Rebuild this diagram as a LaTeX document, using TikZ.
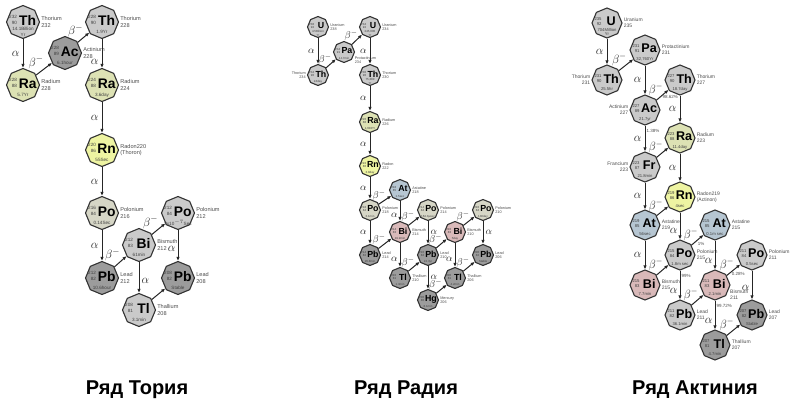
\documentclass[tikz,border=0pt]{standalone}
\usepackage{fontspec}
\setmainfont{Liberation Sans}
\usetikzlibrary{shapes.geometric,arrows.meta,calc}
\definecolor{cTh}{HTML}{CACACA}
\definecolor{cDk}{HTML}{9C9C9C}
\definecolor{cRa}{HTML}{DDE2B4}
\definecolor{cRn}{HTML}{EEF4A2}
\definecolor{cPo}{HTML}{D6D6C6}
\definecolor{cAt}{HTML}{B6C6D2}
\definecolor{cBi}{HTML}{D9B9B9}
\tikzset{
 oct/.style={regular polygon,regular polygon sides=8,shape border rotate=22.5,draw=black!80,line width=1.1pt,inner sep=0pt},
 arr/.style={-{Latex[length=4pt,width=3.5pt]},line width=1pt,black!85},
 gr/.style={font=\fontsize{13}{13}\selectfont,inner sep=1pt,black!85},
 lbl/.style={align=left,inner sep=1pt,text=black!70},
 pc/.style={font=\fontsize{4.5}{5}\selectfont,inner sep=0pt,black!70},
 ttl/.style={font=\fontsize{20}{20}\selectfont\bfseries}
}
% #1 name #2 pos #3 diam #4 fill #5 mass #6 Z #7 sym #8 half-life #9 label options
\newcommand\iso[9]{%
 \pgfmathsetmacro\dd{#3}%
 \pgfmathsetmacro\fs{0.42*#3}\pgfmathsetmacro\fn{0.14*#3}\pgfmathsetmacro\fb{0.16*#3}%
 \node[oct,minimum size=\dd pt,fill=#4,#9] (#1) at #2 {};
 \node[inner sep=0pt,font=\fontsize{\fs}{\fs}\selectfont\bfseries] at ($(#1)+(0.14*\dd,-0.05*\dd)$) {#7};
 \node[inner sep=0pt,align=right,font=\fontsize{\fn}{\fb}\selectfont,text=black!75] at ($(#1)+(-0.3*\dd,-0.06*\dd)$) {#5\\#6};
 \node[inner sep=0pt,align=center,font=\fontsize{\fn}{\fb}\selectfont,text=black!75] at ($(#1)+(0,0.3*\dd)$) {#8};
}
\begin{document}
\begin{tikzpicture}[x=1pt,y=-1pt]
\useasboundingbox (0,0) rectangle (807,413);
% ---------------- Thorium series
\def\D{33}
\tikzset{lt/.style={label={[lbl,font=\fontsize{5.6}{6.5}\selectfont,anchor=west]east:#1}}}
\iso{t1}{(23,22)}{\D}{cTh}{232}{90}{Th}{14.1Billion\\Yr}{lt={Thorium\\232}}
\iso{t2}{(65,53)}{\D}{cDk}{228}{89}{Ac}{6.1hour}{lt={Actinium\\228}}
\iso{t3}{(102,22)}{\D}{cTh}{228}{90}{Th}{1.9Yr}{lt={Thorium\\228}}
\iso{t4}{(23,85)}{\D}{cRa}{228}{88}{Ra}{5.7Yr}{lt={Radium\\228}}
\iso{t5}{(102,85)}{\D}{cRa}{224}{88}{Ra}{3.6day}{lt={Radium\\224}}
\iso{t6}{(102,150)}{\D}{cRn}{220}{86}{Rn}{55Sec}{lt={Radon220\\(Thoron)}}
\iso{t7}{(102,213)}{\D}{cPo}{216}{84}{Po}{0.14Sec}{lt={Polonium\\216}}
\iso{t8}{(139,245)}{\D}{cTh}{212}{83}{Bi}{61min}{lt={Bismuth\\212}}
\iso{t9}{(178,213)}{\D}{cTh}{212}{84}{Po}{3x10$^{-7}$Sec}{lt={Polonium\\212}}
\iso{t10}{(102,278)}{\D}{cDk}{212}{82}{Pb}{10.6hour}{lt={Lead\\212}}
\iso{t11}{(178,278)}{\D}{cDk}{208}{82}{Pb}{Stable}{lt={Lead\\208}}
\iso{t12}{(139,310)}{\D}{cTh}{208}{81}{Tl}{3.1min}{lt={Thallium\\208}}
\draw[arr] (t1) -- node[gr,left=2pt]{$\alpha$} (t4);
\draw[arr] (t4) -- node[gr,above left=-1pt]{$\beta^-$} (t2);
\draw[arr] (t2) -- node[gr,above left=-1pt]{$\beta^-$} (t3);
\draw[arr] (t3) -- node[gr,left=2pt,pos=.8]{$\alpha$} (t5);
\draw[arr] (t5) -- node[gr,left=2pt]{$\alpha$} (t6);
\draw[arr] (t6) -- node[gr,left=2pt]{$\alpha$} (t7);
\draw[arr] (t7) -- node[gr,left=2pt]{$\alpha$} (t10);
\draw[arr] (t10) -- node[gr,above left=-1pt]{$\beta^-$} (t8);
\draw[arr] (t8) -- node[gr,above left=-1pt]{$\beta^-$} (t9);
\draw[arr] (t8) -- node[gr,right=1pt,pos=.6]{$\alpha$} (t12);
\draw[arr] (t9) -- node[gr,left=1pt,pos=.6]{$\alpha$} (t11);
\draw[arr] (t12) -- (t11);
% ---------------- Radium series
\def\D{21}
\tikzset{lr/.style={label={[lbl,font=\fontsize{3.8}{4.4}\selectfont,anchor=west]east:#1}},
 ll/.style={label={[lbl,align=right,font=\fontsize{3.8}{4.4}\selectfont,anchor=east]west:#1}}}
\iso{r1}{(318,27)}{\D}{cTh}{238}{92}{U}{4.5Billion\\Yr}{lr={Uranium\\238}}
\iso{r2}{(318,75)}{\D}{cTh}{234}{90}{Th}{24day}{ll={Thorium\\234}}
\iso{r3}{(344,52)}{\D}{cTh}{234}{91}{Pa}{1.17min}{label={[lbl,font=\fontsize{3.8}{4.4}\selectfont,anchor=north west]-20:Protactinium\\234}}
\iso{r4}{(370,27)}{\D}{cTh}{234}{92}{U}{245,000\\Yr}{lr={Uranium\\234}}
\iso{r5}{(370,75)}{\D}{cTh}{230}{90}{Th}{75,380\\Yr}{lr={Thorium\\230}}
\iso{r6}{(370,122)}{\D}{cRa}{226}{88}{Ra}{1,602Yr}{lr={Radium\\226}}
\iso{r7}{(370,166)}{\D}{cRn}{222}{86}{Rn}{3.8day}{lr={Radon\\222}}
\iso{r8}{(370,210)}{\D}{cPo}{218}{84}{Po}{3.1min}{lr={Polonium\\218}}
\iso{r9}{(400,190)}{\D}{cAt}{218}{85}{At}{1.5sec}{lr={Astatine\\218}}
\iso{r10}{(400,232)}{\D}{cBi}{214}{83}{Bi}{19.9min}{lr={Bismuth\\214}}
\iso{r11}{(370,255)}{\D}{cDk}{214}{82}{Pb}{26.8min}{lr={Lead\\214}}
\iso{r12}{(428,210)}{\D}{cPo}{214}{84}{Po}{164.3μsec}{lr={Polonium\\214}}
\iso{r13}{(400,278)}{\D}{cDk}{210}{81}{Tl}{1.3min}{lr={Thallium\\210}}
\iso{r14}{(428,255)}{\D}{cDk}{210}{82}{Pb}{22.3yr}{lr={Lead\\210}}
\iso{r15}{(428,300)}{\D}{cDk}{206}{80}{Hg}{8.1min}{lr={Mercury\\206}}
\iso{r16}{(455,232)}{\D}{cBi}{210}{83}{Bi}{5day}{lr={Bismuth\\210}}
\iso{r17}{(483,210)}{\D}{cPo}{210}{84}{Po}{138day}{lr={Polonium\\210}}
\iso{r18}{(455,278)}{\D}{cDk}{206}{81}{Tl}{4.2min}{lr={Thallium\\206}}
\iso{r19}{(483,255)}{\D}{cDk}{206}{82}{Pb}{Stable}{lr={Lead\\206}}
\tikzset{g2/.style={gr,font=\fontsize{10}{10}\selectfont}}
\draw[arr] (r1) -- node[g2,left=2pt]{$\alpha$} (r2);
\draw[arr] (r2) -- node[g2,above left=-2pt]{$\beta^-$} (r3);
\draw[arr] (r3) -- node[g2,above left=-2pt]{$\beta^-$} (r4);
\draw[arr] (r4) -- node[g2,left=2pt]{$\alpha$} (r5);
\draw[arr] (r5) -- node[g2,left=2pt]{$\alpha$} (r6);
\draw[arr] (r6) -- node[g2,left=2pt]{$\alpha$} (r7);
\draw[arr] (r7) -- node[g2,left=2pt]{$\alpha$} (r8);
\draw[arr] (r8) -- node[g2,above left=-2pt]{$\beta^-$} (r9);
\draw[arr] (r8) -- node[g2,left=2pt]{$\alpha$} (r11);
\draw[arr] (r9) -- node[g2,left=1pt,pos=.7]{$\alpha$} (r10);
\draw[arr] (r11) -- node[g2,above left=-2pt]{$\beta^-$} (r10);
\draw[arr] (r10) -- node[g2,above left=-2pt]{$\beta^-$} (r12);
\draw[arr] (r10) -- node[g2,left=1pt,pos=.7]{$\alpha$} (r13);
\draw[arr] (r13) -- node[g2,above left=-2pt]{$\beta^-$} (r14);
\draw[arr] (r12) -- node[g2,right=1pt,pos=.5]{$\alpha$} (r14);
\draw[arr] (r14) -- node[g2,above left=-2pt]{$\beta^-$} (r16);
\draw[arr] (r14) -- node[g2,right=1pt,pos=.5]{$\alpha$} (r15);
\draw[arr] (r15) -- node[g2,above left=-2pt]{$\beta^-$} (r18);
\draw[arr] (r16) -- node[g2,above left=-2pt]{$\beta^-$} (r17);
\draw[arr] (r16) -- node[g2,left=1pt,pos=.7]{$\alpha$} (r18);
\draw[arr] (r17) -- node[g2,right=1pt,pos=.5]{$\alpha$} (r19);
\draw[arr] (r18) -- node[g2,above left=-2pt]{$\beta^-$} (r19);
% ---------------- Actinium series
\def\D{30}
\tikzset{la/.style={label={[lbl,font=\fontsize{5}{5.8}\selectfont,anchor=west]east:#1}},
 lla/.style={label={[lbl,align=right,font=\fontsize{5}{5.8}\selectfont,anchor=east]west:#1}}}
\iso{a1}{(607,23)}{\D}{cTh}{235}{92}{U}{704Million\\Yr}{la={Uranium\\235}}
\iso{a2}{(645,50)}{\D}{cTh}{231}{91}{Pa}{32,760Yr}{la={Protactinium\\231}}
\iso{a3}{(607,80)}{\D}{cTh}{231}{90}{Th}{25.5hr}{lla={Thorium\\231}}
\iso{a4}{(680,80)}{\D}{cTh}{227}{90}{Th}{18.7day}{la={Thorium\\227}}
\iso{a5}{(645,110)}{\D}{cTh}{227}{89}{Ac}{21.7yr}{lla={Actinium\\227}}
\iso{a6}{(680,138)}{\D}{cRa}{223}{88}{Ra}{11.4day}{la={Radium\\223}}
\iso{a7}{(645,167)}{\D}{cTh}{223}{87}{Fr}{21.8min}{lla={Francium\\223}}
\iso{a8}{(680,197)}{\D}{cRn}{219}{86}{Rn}{4sec}{la={Radon219\\(Actinon)}}
\iso{a9}{(645,225)}{\D}{cAt}{219}{85}{At}{56sec}{la={Astatine\\219}}
\iso{a10}{(715,225)}{\D}{cAt}{215}{85}{At}{0.1m sec}{la={Astatine\\215}}
\iso{a11}{(680,255)}{\D}{cTh}{215}{84}{Po}{1.8m sec}{la={Polonium\\215}}
\iso{a12}{(752,255)}{\D}{cTh}{211}{84}{Po}{0.5sec}{la={Polonium\\211}}
\iso{a13}{(645,285)}{\D}{cBi}{215}{83}{Bi}{7.7min}{la={Bismuth\\215}}
\iso{a14}{(715,285)}{\D}{cBi}{211}{83}{Bi}{2.1min}{label={[lbl,font=\fontsize{5}{5.8}\selectfont,anchor=north west]-15:Bismuth\\211}}
\iso{a15}{(680,315)}{\D}{cTh}{211}{82}{Pb}{36.1min}{la={Lead\\211}}
\iso{a16}{(752,315)}{\D}{cDk}{207}{82}{Pb}{Stable}{la={Lead\\207}}
\iso{a17}{(715,345)}{\D}{cDk}{207}{81}{Tl}{4.7min}{la={Thallium\\207}}
\tikzset{g3/.style={gr,font=\fontsize{12}{12}\selectfont}}
\draw[arr] (a1) -- node[g3,left=2pt]{$\alpha$} (a3);
\draw[arr] (a3) -- node[g3,above left=-2pt]{$\beta^-$} (a2);
\draw[arr] (a2) -- node[g3,left=2pt]{$\alpha$} (a5);
\draw[arr] (a5) -- node[g3,above left=-2pt]{$\beta^-$} node[pc,right=2pt,pos=.3]{98.62\%} (a4);
\draw[arr] (a5) -- node[g3,left=2pt]{$\alpha$} node[pc,right=1pt,pos=.2]{1.38\%} (a7);
\draw[arr] (a4) -- node[g3,left=2pt]{$\alpha$} (a6);
\draw[arr] (a7) -- node[g3,above left=-2pt]{$\beta^-$} (a6);
\draw[arr] (a6) -- node[g3,left=2pt]{$\alpha$} (a8);
\draw[arr] (a7) -- node[g3,left=2pt]{$\alpha$} (a9);
\draw[arr] (a9) -- node[g3,above left=-2pt]{$\beta^-$} (a8);
\draw[arr] (a8) -- node[g3,left=1pt,pos=.7]{$\alpha$} (a11);
\draw[arr] (a9) -- node[g3,left=2pt]{$\alpha$} (a13);
\draw[arr] (a13) -- node[g3,above left=-2pt]{$\beta^-$} (a11);
\draw[arr] (a11) -- node[g3,above left=-2pt]{$\beta^-$} node[pc,below right=1pt,pos=.4]{1\%} (a10);
\draw[arr] (a11) -- node[g3,left=1pt,pos=.7]{$\alpha$} node[pc,right=1pt,pos=.2]{99\%} (a15);
\draw[arr] (a10) -- node[g3,left=1pt,pos=.7]{$\alpha$} (a14);
\draw[arr] (a15) -- node[g3,above left=-2pt]{$\beta^-$} (a14);
\draw[arr] (a14) -- node[g3,above left=-2pt]{$\beta^-$} node[pc,below right=0pt,pos=.35]{0.28\%} (a12);
\draw[arr] (a14) -- node[g3,left=1pt,pos=.7]{$\alpha$} node[pc,right=1pt,pos=.2]{99.72\%} (a17);
\draw[arr] (a12) -- node[g3,left=1pt,pos=.6]{$\alpha$} (a16);
\draw[arr] (a17) -- node[g3,above left=-2pt]{$\beta^-$} (a16);
% titles
\node[ttl] (T1) at (137,390) {Ряд Тория};
\node[ttl] (T2) at (406,390) {Ряд Радия};
\node[ttl] (T3) at (695,390) {Ряд Актиния};
\end{tikzpicture}
\end{document}
